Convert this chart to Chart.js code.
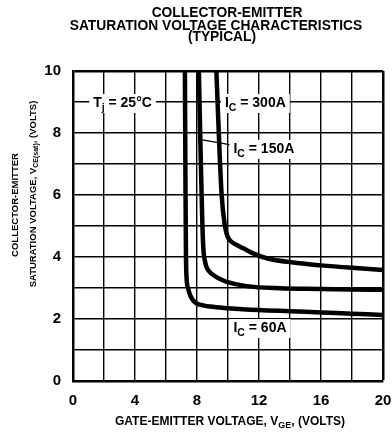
<!DOCTYPE html>
<html>
<head>
<meta charset="utf-8">
<script src="https://cdn.jsdelivr.net/npm/chart.js@4"></script>
<style>
html, body { margin: 0; padding: 0; background: #fff; }
</style>
</head>
<body>
<canvas id="chart" width="392" height="434"></canvas>
<script>
// Curves: gate-emitter voltage (x) vs saturation voltage (y)
const vge_60 = [7.22, 7.26, 7.29, 7.33, 7.42, 7.55, 7.75, 7.98, 8.4, 8.84, 10, 12, 14, 16, 18, 20];
const vce_60 = [10, 6, 4, 3.3, 3.0, 2.78, 2.6, 2.5, 2.44, 2.4, 2.35, 2.29, 2.25, 2.21, 2.17, 2.13];

const vge_150 = [8.12, 8.25, 8.3, 8.35, 8.42, 8.5, 8.62, 8.8, 9.05, 9.45, 9.92, 11.2, 13.35, 16, 18, 20];
const vce_150 = [10, 7, 6, 5, 4.2, 3.9, 3.67, 3.53, 3.42, 3.3, 3.2, 3.06, 2.99, 2.97, 2.95, 2.94];

const vge_300 = [9.25, 9.45, 9.59, 9.8, 9.9, 10.0, 10.25, 10.6, 10.99, 11.7, 12.5, 14.2, 16, 18, 20];
const vce_300 = [10, 7.45, 6, 5, 4.78, 4.63, 4.48, 4.38, 4.28, 4.1, 3.96, 3.82, 3.73, 3.65, 3.58];

// Title and axis text
const title_lines = ['COLLECTOR-EMITTER', 'SATURATION VOLTAGE CHARACTERISTICS', '(TYPICAL)'];
const curve_main = ['T', 'I', 'I', 'I'];
const curve_sub = ['j', 'C', 'C', 'C'];
const curve_rest = [' = 25°C', ' = 300A', ' = 150A', ' = 60A'];

const FONT = '"Liberation Sans", Arial, Helvetica, sans-serif';

function pts(xs, ys) {
  return xs.map((x, i) => ({x: x, y: ys[i]}));
}

function curve(xs, ys) {
  return {
    data: pts(xs, ys),
    borderColor: '#000',
    borderWidth: 4.5,
    pointRadius: 0,
    fill: false,
    cubicInterpolationMode: 'monotone'
  };
}

// draw a row of text pieces [text, size, dy], returns width
function rich(ctx, parts, x, y, align) {
  let w = 0;
  for (let p of parts) {
    ctx.font = 'bold ' + p[1] + 'px ' + FONT;
    w += ctx.measureText(p[0]).width;
  }
  let cx = align == 'center' ? x - w / 2 : x;
  for (let p of parts) {
    ctx.font = 'bold ' + p[1] + 'px ' + FONT;
    ctx.fillText(p[0], cx, y + p[2]);
    cx += ctx.measureText(p[0]).width;
  }
  return w;
}

function boxed(ctx, parts, x, y) {
  let w = 0;
  for (let p of parts) {
    ctx.font = 'bold ' + p[1] + 'px ' + FONT;
    w += ctx.measureText(p[0]).width;
  }
  ctx.fillStyle = '#fff';
  ctx.fillRect(x - 4, y - 13, w + 8, 19);
  ctx.fillStyle = '#000';
  rich(ctx, parts, x, y, 'left');
}

const textLayer = {
  id: 'textLayer',
  afterDraw(chart) {
    const ctx = chart.ctx;
    const xs = chart.scales.x, ys = chart.scales.y;
    ctx.save();
    ctx.fillStyle = '#000';
    ctx.textBaseline = 'alphabetic';

    // title
    const tx = [227, 216, 222], ty = [17, 29.5, 41];
    title_lines.forEach((t, i) => rich(ctx, [[t, 13.8, 0]], tx[i], ty[i], 'center'));

    // x axis title
    rich(ctx, [['GATE-EMITTER VOLTAGE, V', 12, 0], ['GE', 9, 3], [', (VOLTS)', 12, 0]], 230, 425, 'center');

    // y axis title, two rotated lines
    ctx.save();
    ctx.translate(18, 205);
    ctx.rotate(-Math.PI / 2);
    rich(ctx, [['COLLECTOR-EMITTER', 9.5, 0]], 0, 0, 'center');
    ctx.restore();
    ctx.save();
    ctx.translate(36, 194);
    ctx.rotate(-Math.PI / 2);
    rich(ctx, [['SATURATION VOLTAGE, V', 9.5, 0], ['CE(sat)', 7, 2], [', (VOLTS)', 9.5, 0]], 0, 0, 'center');
    ctx.restore();

    // leader line to the 150A curve
    ctx.strokeStyle = '#000';
    ctx.lineWidth = 1.3;
    ctx.beginPath();
    ctx.moveTo(xs.getPixelForValue(8.35), ys.getPixelForValue(7.78));
    ctx.lineTo(xs.getPixelForValue(10.2), ys.getPixelForValue(7.62));
    ctx.stroke();

    // curve labels on white boxes
    const lx = [1.3, 9.8, 10.35, 10.35], ly = [9, 9, 7.52, 1.74];
    curve_main.forEach((m, i) => {
      boxed(ctx, [[m, 14, 0], [curve_sub[i], 10.5, 4], [curve_rest[i], 14, 0]],
        xs.getPixelForValue(lx[i]), ys.getPixelForValue(ly[i]) + 5);
    });
    ctx.restore();
  }
};

const tickFont = {family: FONT, size: 15, weight: 'bold'};

new Chart(document.querySelector('#chart'), {
  type: 'line',
  data: {
    datasets: [curve(vge_60, vce_60), curve(vge_150, vce_150), curve(vge_300, vce_300)]
  },
  options: {
    responsive: false,
    animation: false,
    events: [],
    layout: {padding: {top: 71, right: 9, left: 0, bottom: 0}},
    plugins: {legend: {display: false}, tooltip: {enabled: false}, title: {display: false}},
    scales: {
      x: {
        type: 'linear', min: 0, max: 20,
        ticks: {
          stepSize: 2, autoSkip: false, maxRotation: 0, padding: 11, color: '#000', font: tickFont,
          callback: v => v % 4 === 0 ? v : ''
        },
        grid: {color: '#000', drawTicks: false, lineWidth: c => c.tick && c.tick.value === 20 ? 2.5 : 1.4},
        border: {color: '#000', width: 2.5},
        afterFit: s => { s.height = 53; s.paddingLeft = 0; s.paddingRight = 0; }
      },
      y: {
        type: 'linear', min: 0, max: 10,
        ticks: {
          stepSize: 1, autoSkip: false, padding: 12, color: '#000', font: tickFont,
          callback: v => v % 2 === 0 ? v : ''
        },
        grid: {color: '#000', drawTicks: false, lineWidth: c => c.tick && c.tick.value === 10 ? 2.5 : 1.4},
        border: {color: '#000', width: 2.5},
        afterFit: s => { s.width = 73; s.paddingTop = 0; s.paddingBottom = 0; }
      }
    }
  },
  plugins: [textLayer]
});
</script>
</body>
</html>
